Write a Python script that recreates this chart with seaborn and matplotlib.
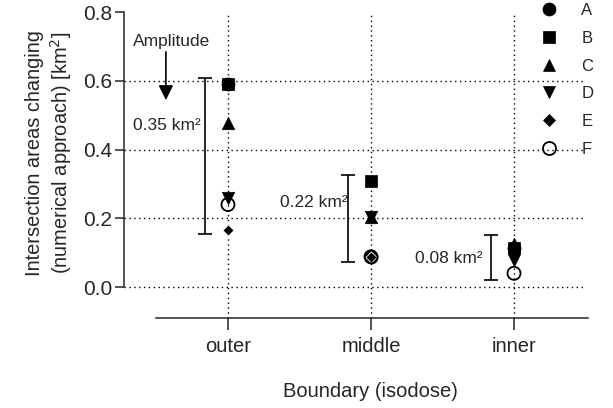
import numpy as np
import pandas as pd
import seaborn as sns
import matplotlib.pyplot as plt
from matplotlib.lines import Line2D

# Data
boundaries = ['outer', 'middle', 'inner']
series = ['A', 'B', 'C', 'D', 'E', 'F']
A = [0.59, 0.088, 0.115]
B = [0.59, 0.308, 0.115]
C = [0.477, 0.205, 0.125]
D = [0.258, 0.205, 0.078]
E = [0.166, 0.088, 0.115]
F = [0.24, 0.088, 0.04]

# amplitude bars (min / max) and their labels
bar_low = [0.154, 0.073, 0.02]
bar_high = [0.608, 0.326, 0.151]
amp_labels = ['0.35 km²', '0.22 km²', '0.08 km²']

df = pd.DataFrame({'boundary': boundaries * 6,
                   'series': np.repeat(series, 3),
                   'value': A + B + C + D + E + F})
df['x'] = df['boundary'].map({b: i for i, b in enumerate(boundaries)})

sns.set_style('ticks')
plt.rcParams['font.family'] = ['Liberation Sans', 'DejaVu Sans']

fig = plt.figure(figsize=(6.13, 4.08), dpi=100)
ax = fig.add_axes([124 / 613, 1 - 318 / 408, 461.5 / 613, 306 / 408])

styles = {
    'A': dict(marker='o', s=88, color='black', edgecolor='black', linewidth=0.5),
    'B': dict(marker='s', s=80, color='black', edgecolor='black', linewidth=0.5),
    'C': dict(marker='^', s=80, color='black', edgecolor='black', linewidth=0.5),
    'D': dict(marker='v', s=80, color='black', edgecolor='black', linewidth=0.5),
    'E': dict(marker='D', s=32, color='black', edgecolor='white', linewidth=0.6),
    'F': dict(marker='o', s=88, facecolors='none', edgecolor='black', linewidth=1.3),
}

# grid lines (dotted), drawn below the markers
for yv in [0.0, 0.2, 0.4, 0.6]:
    ax.axhline(yv, color='black', ls=(0, (1, 2.5)), lw=1, zorder=0)
for i in range(len(boundaries)):
    ax.axvline(i, color='black', ls=(0, (1, 2.5)), lw=1, zorder=0)

# E sits above A but below the square of B
draw_order = ['A', 'E', 'B', 'C', 'D', 'F']
for name in draw_order:
    sub = df[df['series'] == name]
    sns.scatterplot(data=sub, x='x', y='value', ax=ax, zorder=3,
                    legend=False, **styles[name])

# amplitude range bars
bar_x = np.arange(len(boundaries)) - 0.16
centre = (np.array(bar_low) + np.array(bar_high)) / 2
half = (np.array(bar_high) - np.array(bar_low)) / 2
ax.errorbar(bar_x, centre, yerr=half, fmt='none', ecolor='black',
            elinewidth=1.2, capsize=4.7, capthick=1.2)

# amplitude labels, offsets relative to each category
lab_pos = [(-0.664, 0.471), (-0.636, 0.247), (-0.69, 0.084)]
for i, ((tx, ty), t) in enumerate(zip(lab_pos, amp_labels)):
    ax.text(i + tx, ty, t, fontsize=12.5, va='center', ha='left')

ax.text(-0.664, 0.713, 'Amplitude', fontsize=12.5, va='center', ha='left')
ax.annotate('', xy=(-0.434, 0.544), xytext=(-0.434, 0.684),
            arrowprops=dict(arrowstyle='-|>', color='black', lw=1.2,
                            mutation_scale=22, shrinkA=0, shrinkB=0))

ax.set_xlim(-0.727, 2.5)
ax.set_ylim(-0.09, 0.8)
ax.set_xticks(range(len(boundaries)))
ax.set_xticklabels(boundaries)
ax.set_yticks([0.0, 0.2, 0.4, 0.6, 0.8])
ax.set_yticklabels(['0.0', '0.2', '0.4', '0.6', '0.8'])
ax.tick_params(axis='x', length=8.5, width=1.1, labelsize=14.5, pad=5)
ax.tick_params(axis='y', length=6.5, width=1.1, labelsize=15, pad=2)

for sp in ['top', 'right']:
    ax.spines[sp].set_visible(False)
ax.spines['left'].set_bounds(0, 0.8)
ax.spines['bottom'].set_bounds(-0.5, 2.52)
ax.spines['left'].set_linewidth(1.1)
ax.spines['bottom'].set_linewidth(1.1)

ax.set_xlabel('Boundary (isodose)', fontsize=14.5)
ax.xaxis.set_label_coords(0.535, -0.21)
ax.set_ylabel('Intersection areas changing\n(numerical approach) [km$^2$]',
              fontsize=14.4)
ax.yaxis.set_label_coords(-0.108, 0.54)

handles = []
for name in series:
    st = styles[name]
    face = 'none' if name == 'F' else 'black'
    handles.append(Line2D([], [], ls='none', marker=st['marker'],
                          markersize=np.sqrt(st['s']), markerfacecolor=face,
                          markeredgecolor='black',
                          markeredgewidth=1.3 if name == 'F' else 0.5))
ax.legend(handles, series, loc='upper left', bbox_to_anchor=(0.8816, 0.992),
          bbox_transform=fig.transFigure, frameon=False, fontsize=12,
          handlelength=1.0, handletextpad=1.45, labelspacing=0.76,
          borderpad=0, borderaxespad=0)

fig.savefig('out.png', dpi=100)
